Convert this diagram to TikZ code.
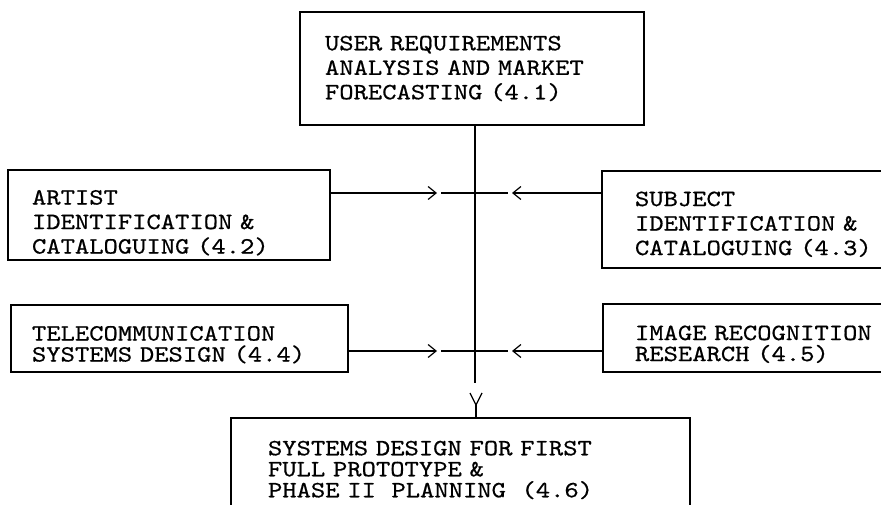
\documentclass[tikz,border=0pt]{standalone}
\usepackage{fontspec}
\setmonofont{lmmono10-regular}[Extension=.otf, FakeStretch=1.17, FakeBold=0.6]
\usetikzlibrary{arrows.meta}
\newcommand{\boxfont}[1]{\ttfamily\fontsize{23.3}{#1}\selectfont\spaceskip=14.3pt\relax\xspaceskip=14.3pt\relax}
\newcommand{\topstrut}[1]{\rule{0pt}{#1}}
\begin{document}
\begin{tikzpicture}[x=1pt,y=-1pt,
  box/.style={draw, line width=1.3pt, anchor=north west, align=left, inner ysep=0pt, outer sep=0pt,
    font=\boxfont{24.5}},
  conn/.style={line width=1.3pt},
  arr/.style={line width=1.3pt, -{Straight Barb[length=8pt,width=13pt,line width=1.2pt]}}]
\useasboundingbox (0,0) rectangle (881,505);
\clip (0,0) rectangle (881,505);
\fill[white] (0,0) rectangle (881,505);

\node[box, inner xsep=25pt, text width=294pt, minimum height=113pt] (req) at (300,12)
  {USER REQUIREMENTS\\ANALYSIS AND MARKET\\FORECASTING (4.1)};
\node[box, inner xsep=24pt, text width=274pt, minimum height=90pt] (artist) at (8,170)
  {\topstrut{30pt}ARTIST\\IDENTIFICATION \&\\CATALOGUING (4.2)};
\node[box, inner xsep=33pt, text width=254pt, minimum height=97pt] (subject) at (602,171)
  {\topstrut{24pt}SUBJECT\\IDENTIFICATION \&\\CATALOGUING (4.3)};
\node[box, inner xsep=21pt, text width=295pt, minimum height=67pt,
  font=\boxfont{21}] (telecom) at (11,305)
  {\topstrut{27pt}TELECOMMUNICATION\\SYSTEMS DESIGN (4.4)};
\node[box, inner xsep=32pt, text width=256pt, minimum height=68pt,
  font=\boxfont{21}] (image) at (603,304)
  {\topstrut{27pt}IMAGE RECOGNITION\\RESEARCH (4.5)};
\node[box, inner xsep=37pt, text width=385pt, minimum height=104pt,
  font=\boxfont{21}] (final) at (231,418)
  {SYSTEMS DESIGN FOR FIRST\\FULL PROTOTYPE \&\\PHASE II~~PLANNING~~(4.6)};

% vertical trunk
\coordinate (vtop) at (475,125);
\coordinate (vend) at (475,383);
\draw[conn] (req.south -| vtop) -- (vend);

% row 1
\coordinate (tipA) at (437,193);
\coordinate (tipB) at (512,193);
\coordinate (mA1) at (441,193);
\coordinate (mA2) at (508,193);
\draw[arr] (artist.east |- tipA) -- (tipA);
\draw[arr] (subject.west |- tipB) -- (tipB);
\draw[conn] (mA1) -- (mA2);

% row 2
\coordinate (tipC) at (437,351);
\coordinate (tipD) at (512,351);
\coordinate (mB1) at (441,351);
\coordinate (mB2) at (508,351);
\draw[arr] (telecom.east |- tipC) -- (tipC);
\draw[arr] (image.west |- tipD) -- (tipD);
\draw[conn] (mB1) -- (mB2);

% Y-shaped head into final box
\coordinate (yc) at (476,405);
\coordinate (yl) at (470,393);
\coordinate (yr) at (482,393);
\draw[conn] (yl) -- (yc) -- (yr);
\draw[conn] (yc) -- (yc |- final.north);
\end{tikzpicture}
\end{document}
